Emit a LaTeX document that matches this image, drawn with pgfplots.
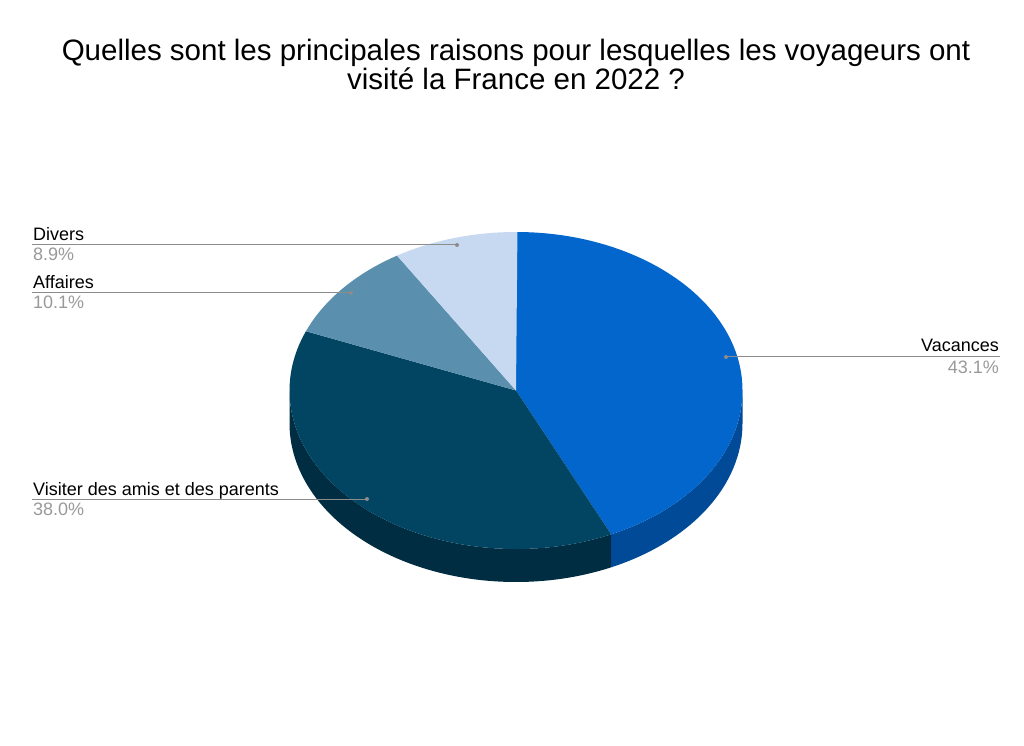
\documentclass[border=0pt]{standalone}
\usepackage{pgfplots}
\usepackage{pgfplotstable}
\pgfplotsset{compat=1.18}
\usepackage{fontspec}
\setmainfont{Liberation Sans}

\definecolor{vac}{RGB}{2,102,204}
\definecolor{vacS}{RGB}{0,74,152}
\definecolor{vis}{RGB}{2,69,98}
\definecolor{visS}{RGB}{0,45,66}
\definecolor{aff}{RGB}{90,143,174}
\definecolor{affS}{RGB}{60,100,125}
\definecolor{div}{RGB}{198,217,240}
\definecolor{divS}{RGB}{150,170,195}
\definecolor{leader}{RGB}{140,140,140}
\definecolor{pct}{RGB}{153,153,153}

% share of each reason, in %
\pgfplotstableread[col sep=comma]{
label,value,col,side
Vacances,43.1,vac,vacS
Visiter,38.0,vis,visS
Affaires,10.1,aff,affS
Divers,8.9,div,divS
}\piedata

% centre, radii and depth of the pie (axis units = pt)
\def\cx{516}
\def\cy{354.5}
\def\rx{226.5}
\def\ry{158.5}
\def\dep{33}

\tikzset{lab/.style={font=\fontsize{18}{20}\selectfont, inner sep=0pt}}

\begin{document}
\begin{tikzpicture}
\begin{axis}[
    width=1024pt, height=745pt, scale only axis,
    xmin=0, xmax=1024, ymin=0, ymax=745,
    axis lines=none, ticks=none, clip=false,
]
% keep the whole canvas
\path (axis cs:0,0) rectangle (axis cs:1024,745);
% side walls (front half only)
\def\astart{90}
\pgfplotsforeachungrouped \i in {0,...,3}{%
  \pgfplotstablegetelem{\i}{value}\of\piedata \let\v\pgfplotsretval
  \pgfplotstablegetelem{\i}{side}\of\piedata \let\c\pgfplotsretval
  \pgfmathsetmacro\aend{\astart-3.6*\v}%
  \pgfmathsetmacro\e{min(\astart,0)}%
  \pgfmathsetmacro\s{max(\aend,-180)}%
  \pgfmathparse{\e>\s ? 1 : 0}%
  \ifnum\pgfmathresult=1
    \pgfmathsetmacro\xa{\cx+\rx*cos(\e)}%
    \pgfmathsetmacro\ya{\cy+\ry*sin(\e)}%
    \pgfmathsetmacro\xb{\cx+\rx*cos(\s)}%
    \pgfmathsetmacro\yb{\cy+\ry*sin(\s)-\dep}%
    \edef\cmd{\noexpand\fill[\c] (axis cs:\xa,\ya)
      arc[start angle=\e, end angle=\s, x radius=\rx pt, y radius=\ry pt]
      -- (axis cs:\xb,\yb)
      arc[start angle=\s, end angle=\e, x radius=\rx pt, y radius=\ry pt]
      -- cycle;}%
    \cmd
  \fi
  \let\astart\aend
}
% top faces
\def\astart{90}
\pgfplotsforeachungrouped \i in {0,...,3}{%
  \pgfplotstablegetelem{\i}{value}\of\piedata \let\v\pgfplotsretval
  \pgfplotstablegetelem{\i}{col}\of\piedata \let\c\pgfplotsretval
  \pgfmathsetmacro\aend{\astart-3.6*\v}%
  \pgfmathsetmacro\xa{\cx+\rx*cos(\astart)}%
  \pgfmathsetmacro\ya{\cy+\ry*sin(\astart)}%
  \edef\cmd{\noexpand\fill[\c] (axis cs:\cx,\cy) -- (axis cs:\xa,\ya)
    arc[start angle=\astart, end angle=\aend, x radius=\rx pt, y radius=\ry pt]
    -- cycle;}%
  \cmd
  \let\astart\aend
}
% leader lines and labels
\draw[leader, line width=1pt] (axis cs:32,500) -- (axis cs:457,500);
\fill[leader] (axis cs:457,500) circle[radius=2pt];
\node[lab, anchor=base west] at (axis cs:33,504) {Divers};
\node[lab, anchor=base west, text=pct] at (axis cs:33,484) {8.9\%};

\draw[leader, line width=1pt] (axis cs:32,452) -- (axis cs:351,452);
\fill[leader] (axis cs:351,452) circle[radius=2pt];
\node[lab, anchor=base west] at (axis cs:33,456) {Affaires};
\node[lab, anchor=base west, text=pct] at (axis cs:33,436) {10.1\%};

\draw[leader, line width=1pt] (axis cs:32,246) -- (axis cs:367,246);
\fill[leader] (axis cs:367,246) circle[radius=2pt];
\node[lab, anchor=base west] at (axis cs:33,250) {Visiter des amis et des parents};
\node[lab, anchor=base west, text=pct] at (axis cs:33,230) {38.0\%};

\draw[leader, line width=1pt] (axis cs:726,388) -- (axis cs:1000,388);
\fill[leader] (axis cs:726,388) circle[radius=2pt];
\node[lab, anchor=base east] at (axis cs:999,393) {Vacances};
\node[lab, anchor=base east, text=pct] at (axis cs:999,372) {43.1\%};

% title
\node[anchor=base, font=\fontsize{29.5}{30}\selectfont, inner sep=0pt] at (axis cs:516,684) {Quelles sont les principales raisons pour lesquelles les voyageurs ont};
\node[anchor=base, font=\fontsize{29.5}{30}\selectfont, inner sep=0pt] at (axis cs:516,655) {visité la France en 2022 ?};
\end{axis}
\end{tikzpicture}
\end{document}
